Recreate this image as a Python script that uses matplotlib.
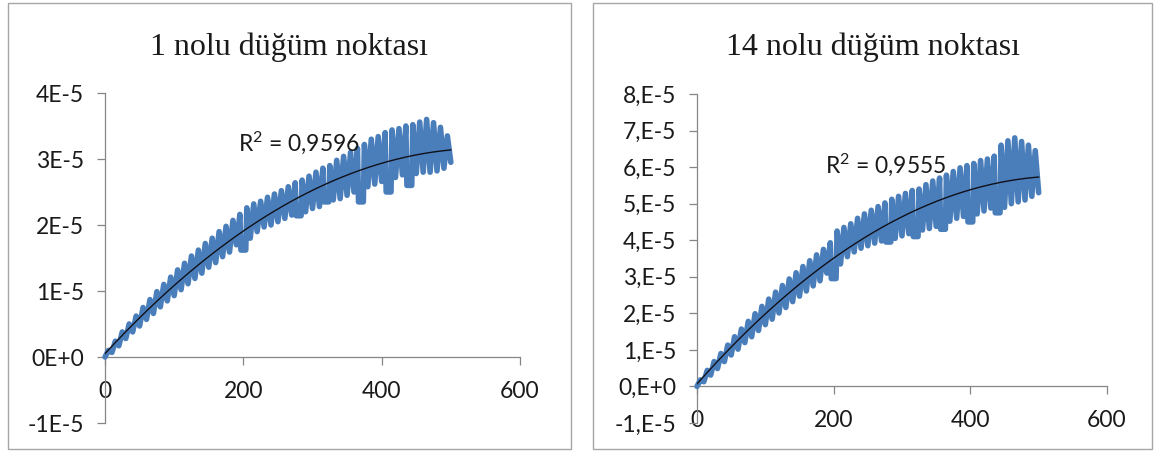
import numpy as np
import matplotlib
matplotlib.use("Agg")
import matplotlib.pyplot as plt
from matplotlib.patches import Rectangle

# ---- data (displacement values in units of 1E-5) ----
STEP = 10  # one oscillation cycle along the x axis

# node 1: local maxima (x = 5, 15, ..., 495) and minima (x = 0, 10, ..., 500)
node1_peaks = [0.10, 0.24, 0.38, 0.50, 0.62, 0.75, 0.87, 0.99, 1.10, 1.21,
               1.32, 1.42, 1.53, 1.62, 1.72, 1.80, 1.90, 1.98, 2.07, 2.16,
               2.26, 2.32, 2.36, 2.42, 2.47, 2.52, 2.58, 2.64, 2.68, 2.74,
               2.80, 2.86, 2.90, 2.98, 3.04, 3.10, 3.16, 3.22, 3.30, 3.34,
               3.40, 3.44, 3.46, 3.50, 3.52, 3.56, 3.60, 3.55, 3.48, 3.35]
node1_troughs = [0.00, 0.07, 0.17, 0.28, 0.38, 0.47, 0.57, 0.66, 0.76, 0.85,
                 0.93, 1.02, 1.11, 1.19, 1.27, 1.36, 1.43, 1.52, 1.59, 1.70,
                 1.62, 1.80, 1.90, 1.97, 2.00, 2.05, 2.10, 2.15, 2.14, 2.20,
                 2.25, 2.28, 2.35, 2.38, 2.40, 2.45, 2.50, 2.35, 2.58, 2.62,
                 2.66, 2.50, 2.72, 2.76, 2.60, 2.78, 2.80, 2.80, 2.82, 2.86,
                 2.95]
node1_wide_troughs = [200, 280, 320, 370, 410, 440]

# node 14
node14_peaks = [0.18, 0.44, 0.68, 0.90, 1.13, 1.36, 1.57, 1.78, 1.99, 2.19,
                2.39, 2.58, 2.76, 2.94, 3.11, 3.28, 3.44, 3.60, 3.75, 3.93,
                4.25, 4.35, 4.45, 4.60, 4.72, 4.82, 4.92, 5.02, 5.12, 5.20,
                5.28, 5.36, 5.40, 5.52, 5.62, 5.70, 5.78, 5.88, 5.98, 6.04,
                6.10, 6.18, 6.22, 6.30, 6.60, 6.72, 6.80, 6.70, 6.60, 6.45]
node14_troughs = [0.00, 0.13, 0.31, 0.49, 0.68, 0.86, 1.02, 1.20, 1.36, 1.53,
                  1.69, 1.84, 2.01, 2.16, 2.32, 2.47, 2.61, 2.75, 2.89, 3.10,
                  2.95, 3.35, 3.55, 3.68, 3.78, 3.85, 3.92, 3.98, 3.95, 4.05,
                  4.12, 4.18, 4.10, 4.28, 4.32, 4.38, 4.30, 4.52, 4.60, 4.65,
                  4.50, 4.72, 4.80, 4.88, 4.75, 4.90, 5.00, 5.05, 5.10, 5.20,
                  5.30]
node14_wide_troughs = [200, 280, 320, 360, 400, 440]

titles = ["1 nolu düğüm noktası", "14 nolu düğüm noktası"]
r2_labels = [r"R$^2$ = 0,9596", r"R$^2$ = 0,9555"]

x_ticks = [0, 200, 400, 600]
x_tick_labels = ["0", "200", "400", "600"]
node1_y_ticks = [-1, 0, 1, 2, 3, 4]
node1_y_labels = ["-1E-5", "0E+0", "1E-5", "2E-5", "3E-5", "4E-5"]
node14_y_ticks = [-1, 0, 1, 2, 3, 4, 5, 6, 7, 8]
node14_y_labels = ["-1,E-5", "0,E+0", "1,E-5", "2,E-5", "3,E-5", "4,E-5",
                   "5,E-5", "6,E-5", "7,E-5", "8,E-5"]

plt.rcParams["mathtext.fontset"] = "custom"
plt.rcParams["mathtext.rm"] = "Lato"
plt.rcParams["mathtext.it"] = "Lato"


def build_series(peaks, troughs, wide):
    """Alternate minima and maxima; wide minima get a short flat bottom."""
    xs, ys = [], []
    for i, t in enumerate(troughs):
        x = i * STEP
        if x in wide:
            xs += [x - 3.5, x + 3.5]
            ys += [t, t]
        else:
            xs.append(x)
            ys.append(t)
        if i < len(peaks):
            xs.append(x + STEP / 2)
            ys.append(peaks[i])
    return np.array(xs, float), np.array(ys, float)


# ---- figure ----
W, H = 1158, 453
fig = plt.figure(figsize=(W / 100, H / 100), dpi=100)
fig.patch.set_facecolor("white")

BLUE = "#4A7EBB"
AXIS = "#868686"
TICK_FONT = "Lato"


def fx(px):
    return px / W


def fy(py):
    return 1 - py / H


panels = [
    dict(box=(8, 3, 571, 449), axes=(105, 93, 520, 423), ylim=(-1, 4),
         yt=node1_y_ticks, yl=node1_y_labels,
         data=(node1_peaks, node1_troughs, node1_wide_troughs),
         r2_pos=(238, 143)),
    dict(box=(593, 3, 1152, 449), axes=(697, 94, 1107, 423), ylim=(-1, 8),
         yt=node14_y_ticks, yl=node14_y_labels,
         data=(node14_peaks, node14_troughs, node14_wide_troughs),
         r2_pos=(825, 165)),
]

for k, p in enumerate(panels):
    bx0, by0, bx1, by1 = p["box"]
    fig.add_artist(Rectangle((fx(bx0), fy(by1)), fx(bx1 - bx0), (by1 - by0) / H,
                             transform=fig.transFigure, fill=False,
                             edgecolor="#A6A6A6", linewidth=1.0))

    ax0, ay0, ax1, ay1 = p["axes"]
    ax = fig.add_axes([fx(ax0), fy(ay1), fx(ax1 - ax0), (ay1 - ay0) / H])
    ax.set_facecolor("none")
    ax.set_xlim(0, 600)
    ax.set_ylim(*p["ylim"])

    xs, ys = build_series(*p["data"])
    ax.plot(xs, ys, color=BLUE, linewidth=4.0, solid_joinstyle="round",
            solid_capstyle="round", clip_on=False, zorder=3)

    coef = np.polyfit(xs, ys, 2)
    xt = np.linspace(0, 500, 300)
    ax.plot(xt, np.polyval(coef, xt), color="#101018", linewidth=1.0, zorder=4)

    for side in ("top", "right"):
        ax.spines[side].set_visible(False)
    ax.spines["bottom"].set_position(("data", 0))
    for side in ("left", "bottom"):
        ax.spines[side].set_color(AXIS)
        ax.spines[side].set_linewidth(0.9)

    ax.set_xticks(x_ticks)
    ax.set_xticklabels(x_tick_labels)
    ax.set_yticks(p["yt"])
    ax.set_yticklabels(p["yl"])
    ax.tick_params(axis="both", direction="out", length=6, width=0.9,
                   color=AXIS, labelcolor="#1a1a1a", labelsize=16.5)
    ax.tick_params(axis="y", pad=9)
    ax.tick_params(axis="x", pad=11)
    for lab in ax.get_xticklabels() + ax.get_yticklabels():
        lab.set_fontfamily(TICK_FONT)

    fig.text(fx((bx0 + bx1) / 2), fy(47), titles[k], ha="center", va="center",
             fontsize=23, family="Liberation Serif", color="#1a1a1a")
    rx, ry = p["r2_pos"]
    fig.text(fx(rx), fy(ry), r2_labels[k], ha="left", va="center",
             fontsize=16.5, family=TICK_FONT, color="#1a1a1a")

fig.savefig("out.png", dpi=100, facecolor="white")
